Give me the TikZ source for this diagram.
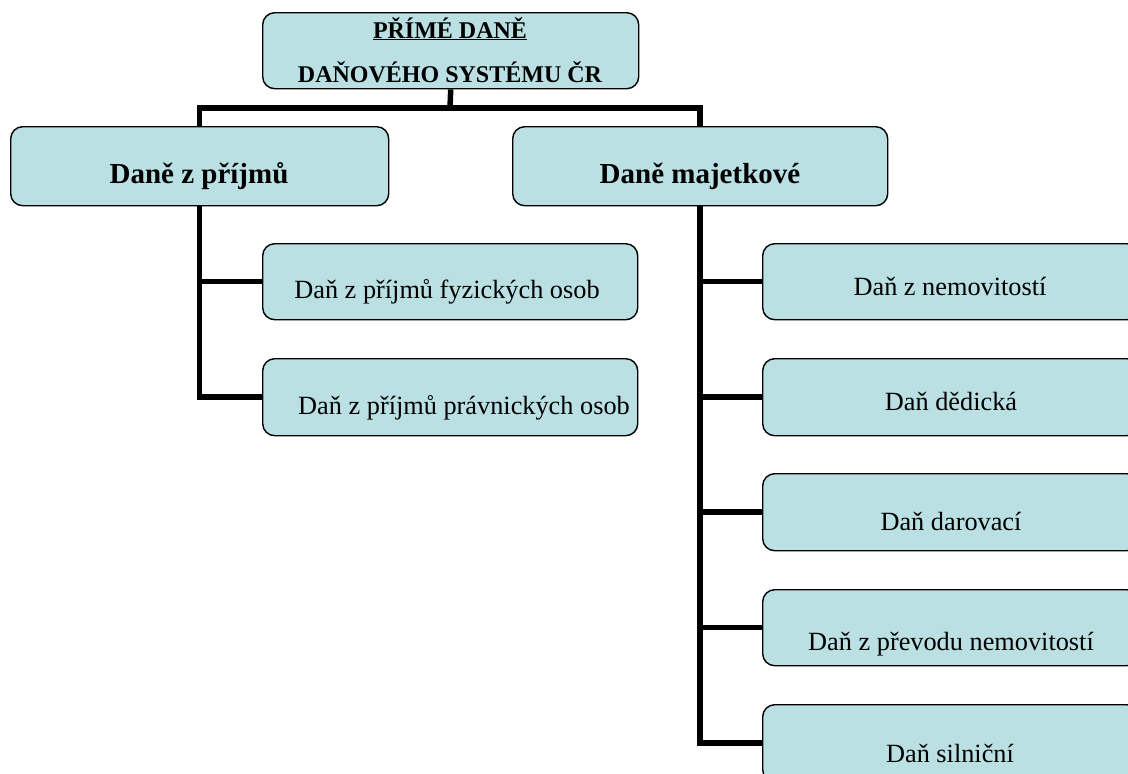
\documentclass[tikz,border=0pt]{standalone}
\usepackage{fontspec}
\setmainfont{Liberation Serif}
\definecolor{boxfill}{RGB}{186,224,227}
\begin{document}
\begin{tikzpicture}[x=1pt,y=-1pt,
  box/.style={draw=black, line width=1.4pt, fill=boxfill, rounded corners=12pt,
    anchor=north west, inner sep=0pt, minimum width=#1, minimum height=77pt},
  box/.default=376pt,
  link/.style={draw=black, line width=5.5pt, line join=miter},
  lbl/.style={anchor=base, inner sep=0pt, font=\fontsize{26.3}{31}\selectfont},
  head/.style={anchor=base, inner sep=0pt, font=\fontsize{29}{34}\selectfont\bfseries},
  ttl/.style={anchor=base, inner sep=0pt, font=\fontsize{24}{28}\selectfont\bfseries}]
\useasboundingbox (0,0) rectangle (1128,774);
\clip (0,0) rectangle (1128,774);

% boxes
\node[box=376pt, minimum height=76pt] (top) at (262,12) {};
\node[box=378pt, minimum height=79pt] (inc) at (10,126) {};
\node[box=375pt, minimum height=79pt] (prop) at (512,126) {};
\node[box=375pt, minimum height=76pt] (fo) at (262,243) {};
\node[box=375pt] (po) at (262,358) {};
\node[box, minimum height=76pt] (nem) at (762,243) {};
\node[box] (ded) at (762,358) {};
\node[box] (dar) at (762,473) {};
\node[box, minimum height=76pt] (pre) at (762,589) {};
\node[box] (sil) at (762,704) {};

% connectors
\coordinate (bus) at (450,108);
\draw[link] (top.south) -- (bus);
\draw[link] (inc.north) |- (bus) -| (prop.north);
\draw[link] (inc.south) |- (fo.west);
\draw[link] (inc.south) |- (po.west);
\draw[link] (prop.south) |- (nem.west);
\draw[link] (prop.south) |- (ded.west);
\draw[link] (prop.south) |- (dar.west);
\draw[link] (prop.south) |- (pre.west);
\draw[link] (prop.south) |- (sil.west);

% labels
\node[ttl] (t-top1) at (450,38) {\underline{PŘÍMÉ DANĚ}};
\node[ttl] (t-top2) at (450,82) {DAŇOVÉHO SYSTÉMU ČR};
\node[head] (t-inc) at (199,183) {Daně z příjmů};
\node[head] (t-prop) at (700,183) {Daně majetkové};
\node[lbl] (t-fo) at (447,298) {Daň z příjmů fyzických osob};
\node[lbl] (t-po) at (464,414) {Daň z příjmů právnických osob};
\node[lbl] (t-nem) at (950,295) {Daň z nemovitostí};
\node[lbl] (t-ded) at (951,410) {Daň dědická};
\node[lbl] (t-dar) at (951,530) {Daň darovací};
\node[lbl] (t-pre) at (951,650) {Daň z převodu nemovitostí};
\node[lbl] (t-sil) at (950,762) {Daň silniční};
\end{tikzpicture}
\end{document}
